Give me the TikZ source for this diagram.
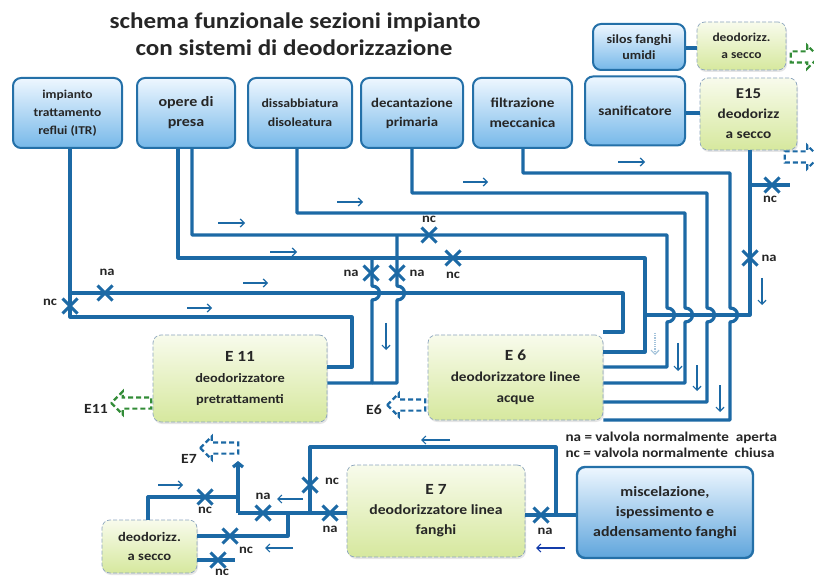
\documentclass[tikz,border=0pt]{standalone}
\usepackage{fontspec}
\setmainfont{Carlito}[FakeStretch=1.12]
\usetikzlibrary{shapes.arrows,shapes.misc,shadows,arrows.meta}
\definecolor{pipec}{RGB}{28,105,165}
\definecolor{boxline}{RGB}{36,112,168}
\definecolor{bluetop}{RGB}{238,247,255}
\definecolor{bluebot}{RGB}{118,184,233}
\definecolor{greentop}{RGB}{248,251,236}
\definecolor{greenbot}{RGB}{214,232,158}
\definecolor{greenline}{RGB}{140,165,190}
\definecolor{txt}{RGB}{38,38,38}
\definecolor{arrgreen}{RGB}{50,140,55}
\newcommand{\fs}[2]{\bfseries\fontsize{#1}{#2}\selectfont}
\begin{document}
\begin{tikzpicture}[x=1pt,y=-1pt,
  bluebox/.style={draw=boxline, line width=2pt, rounded corners=8pt, top color=bluetop, bottom color=bluebot, align=center, text=txt, inner sep=2pt},
  greenbox/.style={draw=greenline, line width=0.7pt, dash pattern=on 4pt off 2pt, rounded corners=8pt, top color=greentop, bottom color=greenbot, align=center, text=txt, inner sep=2pt, drop shadow={opacity=0.2,shadow xshift=1pt,shadow yshift=-2pt}},
  pipe/.style={draw=pipec, line width=3.2pt, line join=round},
  flow/.style={draw=pipec, line width=1.2pt, -{Straight Barb[length=4pt,width=8pt]}},
  valve/.style={cross out, draw=pipec, line width=3pt, minimum size=12pt, inner sep=0pt},
  lab/.style={font=\fs{13}{13}, text=txt},
  darrow/.style={single arrow, draw, dash pattern=on 5pt off 3pt, line width=2.2pt, minimum height=38pt, inner sep=4.5pt, single arrow head extend=6pt}
]
\useasboundingbox[fill=white] (0,0) rectangle (814,577);

% title
\node[font=\fs{22.4}{26}, text=txt] (t1) at (295,22) {schema funzionale sezioni impianto};
\node[font=\fs{22.4}{26}, text=txt] (t2) at (294,48) {con sistemi di deodorizzazione};

% top boxes
\node[bluebox, minimum width=109pt, minimum height=70pt, font=\fs{12}{18}] (itr) at (67.5,113) {impianto\\trattamento\\reflui (ITR)};
\node[bluebox, minimum width=98pt, minimum height=70pt, font=\fs{14.3}{20}] (presa) at (186,113) {opere di\\presa};
\node[bluebox, minimum width=104pt, minimum height=70pt, font=\fs{12.3}{19}] (diss) at (300,113) {dissabbiatura\\disoleatura};
\node[bluebox, minimum width=102pt, minimum height=70pt, font=\fs{13.2}{19}] (decant) at (412,113) {decantazione\\primaria};
\node[bluebox, minimum width=99pt, minimum height=70pt, font=\fs{13.6}{20}] (filtr) at (522.5,113) {filtrazione\\meccanica};
\node[bluebox, minimum width=100pt, minimum height=69pt, font=\fs{13.5}{16}] (sanif) at (635,111) {sanificatore};
\node[bluebox, minimum width=92pt, minimum height=46pt, font=\fs{12.5}{16}] (silos) at (639,47) {silos fanghi\\umidi};
\node[greenbox, minimum width=89pt, minimum height=48pt, font=\fs{12}{17}] (deo1) at (741.5,46) {deodorizz.\\a secco};
\node[greenbox, minimum width=97pt, minimum height=72pt, font=\fs{13.6}{20}] (e15) at (748.5,114) {{\fs{15}{20}E15}\\deodorizz\\a secco};

% lower boxes
\node[greenbox, minimum width=174pt, minimum height=87pt, font=\fs{12.8}{21}] (e11) at (240,378.5) {{\fs{15.5}{21}E 11}\\deodorizzatore\\pretrattamenti};
\node[greenbox, minimum width=175pt, minimum height=85pt, font=\fs{13.6}{21}] (e6) at (515.5,377.5) {{\fs{15.5}{21}E 6}\\deodorizzatore linee\\acque};
\node[greenbox, minimum width=178pt, minimum height=92pt, font=\fs{14}{20}] (e7) at (436,511) {{\fs{15.5}{21}E 7}\\deodorizzatore linea\\fanghi};
\node[bluebox, line width=2.4pt, minimum width=176pt, minimum height=91pt, bottom color={rgb,255:red,95;green,165;blue,220}, font=\fs{14.2}{20}] (misc) at (665,512.5) {miscelazione,\\ispessimento e\\addensamento fanghi};
\node[greenbox, minimum width=95pt, minimum height=53pt, font=\fs{13}{19}] (deo2) at (149.5,546.5) {deodorizz.\\a secco};

% small connectors at top right
\draw[pipe] (silos.east |- 0,48) -- (deo1.west |- 0,48);
\draw[pipe] (sanif.east |- 0,113) -- (e15.west |- 0,113);

% pipes into E6
\draw[pipe] (70,293) -- (623,293) -- (623,332) -- (e6.east |- 0,332);
\draw[pipe] (presa.south -| 178,0) -- (178,258) -- (645,258) -- (645,352) -- (e6.east |- 0,352);
\draw[pipe] (presa.south -| 192,0) -- (192,235) -- (667,235) -- (667,308) .. controls (677,308) and (677,322) .. (667,322) -- (667,367) -- (e6.east |- 0,367);
\draw[pipe] (diss.south -| 297,0) -- (297,213) -- (685,213) -- (685,308) .. controls (695,308) and (695,322) .. (685,322) -- (685,383) -- (e6.east |- 0,383);
\draw[pipe] (decant.south) -- (412,193) -- (707,193) -- (707,308) .. controls (717,308) and (717,322) .. (707,322) -- (707,402) -- (e6.east |- 0,402);
\draw[pipe] (filtr.south -| 523,0) -- (523,173) -- (730,173) -- (730,308) .. controls (740,308) and (740,322) .. (730,322) -- (730,420) -- (e6.east |- 0,420);
\draw[pipe] (e15.south -| 750,0) -- (750,315) -- (645,315);
\coordinate (e15nc) at (790,185);
\draw[pipe] (750,185) -- (e15nc);

% pipes into E11
\draw[pipe] (itr.south -| 70,0) -- (70,317) -- (352,317) -- (352,367) -- (e11.east |- 0,367);
\draw[pipe] (372,258) -- (372,286) .. controls (382,286) and (382,300) .. (372,300) -- (372,383) -- (e11.east |- 0,383);
\draw[pipe] (397,235) -- (397,286) .. controls (407,286) and (407,300) .. (397,300) -- (397,383) -- (372,383);

% lower network
\draw[pipe] (misc.west |- 0,515) -- (e7.east |- 0,515);
\draw[pipe] (556,515) -- (556,447) -- (310,447) -- (310,513);
\draw[pipe] (e7.west |- 0,513) -- (238,513);
\draw[pipe, -{Straight Barb[length=4pt,width=10pt]}] (238,513) -- (238,461);
\draw[pipe] (238,497) -- (148,497) -- (deo2.north -| 148,0);
\draw[pipe] (deo2.east |- 0,536) -- (288,536) -- (288,513);
\coordinate (deo2nc) at (235,560);
\draw[pipe] (deo2.east |- 0,560) -- (deo2nc);

% valves
\node[valve] (v1) at (105,293) {};
\node[valve] (v2) at (70,306) {};
\node[valve] (v3) at (371,273) {};
\node[valve] (v4) at (397,273) {};
\node[valve] (v5) at (429,235) {};
\node[valve] (v6) at (453,258) {};
\node[valve] (v7) at (772,185) {};
\node[valve] (v8) at (750,258) {};
\node[valve] (v9) at (541,515) {};
\node[valve] (v10) at (310,485) {};
\node[valve] (v11) at (330,513) {};
\node[valve] (v12) at (263,513) {};
\node[valve] (v13) at (205,497) {};
\node[valve] (v14) at (230,536) {};
\node[valve] (v15) at (218,560) {};

% valve labels
\node[lab] (l1) at (107,272) {na};
\node[lab] (l2) at (50,302) {nc};
\node[lab] (l3) at (351,273) {na};
\node[lab] (l4) at (417,273) {na};
\node[lab] (l5) at (429,219) {nc};
\node[lab] (l6) at (453,275) {nc};
\node[lab] (l7) at (770,199) {nc};
\node[lab] (l8) at (769,258) {na};
\node[lab] (l9) at (545,531) {na};
\node[lab] (l10) at (332,481) {nc};
\node[lab] (l11) at (330,529) {na};
\node[lab] (l12) at (263,496) {na};
\node[lab] (l13) at (205,510) {nc};
\node[lab] (l14) at (246,550) {nc};
\node[lab] (l15) at (222,572) {nc};

% flow arrows
\draw[flow] (187,308) -- (212,308);
\draw[flow] (243,283) -- (268,283);
\draw[flow] (270,252) -- (297,252);
\draw[flow] (218,223) -- (245,223);
\draw[flow] (337,202) -- (363,202);
\draw[flow] (463,182) -- (488,182);
\draw[flow] (618,162) -- (645,162);
\draw[flow] (386,323) -- (386,350);
\draw[flow, draw=pipec!40, densely dotted] (655,333) -- (655,355);
\draw[flow] (678,343) -- (678,371);
\draw[flow] (697,365) -- (697,391);
\draw[flow] (720,385) -- (720,412);
\draw[flow] (762,278) -- (762,305);
\draw[flow] (450,440) -- (421,440);
\draw[flow] (158,485) -- (183,485);
\draw[flow] (303,499) -- (277,499);
\draw[flow] (293,548) -- (265,548);
\draw[flow, draw={rgb,255:red,20;green,60;blue,170}] (565,548) -- (536,548);

% exhaust arrows
\node[darrow, draw=arrgreen, shape border rotate=180, minimum height=40pt] (ae11) at (134,403) {};
\node[lab, font=\fs{14}{14}] (te11) at (96,409) {E11};
\node[darrow, draw=pipec, shape border rotate=180] (ae6) at (409,405) {};
\node[lab, font=\fs{14}{14}] (te6) at (374,410) {E6};
\node[darrow, draw=pipec, shape border rotate=180] (ae7) at (222,448) {};
\node[lab, font=\fs{14}{14}] (te7) at (189,459) {E7};
\node[darrow, draw=pipec, minimum height=34pt] (ae15) at (799,157) {};
\node[darrow, draw=arrgreen, minimum height=28pt] (ad1) at (802,57) {};

% legend
\node[font=\fs{13.5}{16}, text=txt, align=left, anchor=west] (leg) at (562,445) {na = valvola normalmente~ aperta\\nc = valvola normalmente~ chiusa};
\end{tikzpicture}
\end{document}
